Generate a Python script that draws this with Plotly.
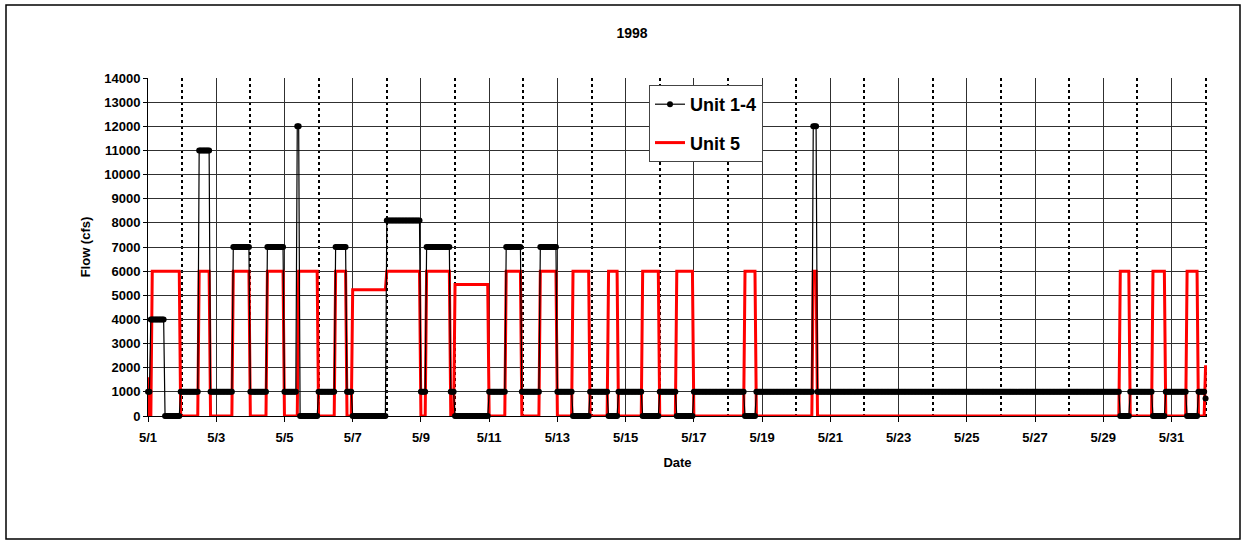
import numpy as np
import pandas as pd
import plotly.graph_objects as go

# ---------------- data ----------------
# Hourly flows, 1998-05-01 00:00 onward. Each series is given as the hour
# (from 5/1 00:00) at which a flow level begins, and that level in cfs.
u14_start_hour = [0, 2, 12, 23, 36, 44, 60, 72, 84, 96, 105, 107, 120, 132, 140,
                  144, 168, 192, 196, 213, 216, 240, 252, 263, 276, 288, 299,
                  311, 324, 331, 348, 360, 372, 384, 420, 428, 468, 471, 684,
                  691, 707, 716, 731, 739, 744]
u14_flow = [1000, 4000, 0, 1000, 11000, 1000, 7000, 1000, 7000, 1000, 12000, 0,
            1000, 7000, 1000, 0, 8100, 1000, 7000, 1000, 0, 1000, 7000, 1000,
            7000, 1000, 0, 1000, 0, 1000, 0, 1000, 0, 1000, 0, 1000, 12000,
            1000, 0, 1000, 0, 1000, 0, 1000, 730]
u14_last_hour = 744

u5_start_hour = [0, 1, 3, 23, 36, 44, 60, 72, 84, 96, 106, 120, 132, 140, 144,
                 168, 192, 196, 213, 216, 240, 252, 263, 276, 288, 299, 311,
                 324, 331, 348, 360, 372, 384, 420, 428, 468, 471, 684, 691,
                 707, 716, 731, 739, 744]
u5_flow = [1600, 0, 6000, 0, 6000, 0, 6000, 0, 6000, 0, 6000, 0, 6000, 0, 5230,
           6000, 0, 6000, 0, 5450, 0, 6000, 0, 6000, 0, 6000, 0, 6000, 0, 6000,
           0, 6000, 0, 6000, 0, 6000, 0, 6000, 0, 6000, 0, 6000, 0, 2100]
u5_last_hour = 744

tick_labels = ["5/1", "5/3", "5/5", "5/7", "5/9", "5/11", "5/13", "5/15",
               "5/17", "5/19", "5/21", "5/23", "5/25", "5/27", "5/29", "5/31"]
dotted_days = ["5/2", "5/4", "5/6", "5/8", "5/10", "5/12", "5/14", "5/16",
               "5/18", "5/20", "5/22", "5/24", "5/26", "5/28", "5/30", "6/1"]
year = 1998
start = pd.Timestamp(f"{year}-05-01")


def hourly(starts, flows, last):
    hours = np.arange(0, last + 1)
    idx = np.searchsorted(np.asarray(starts), hours, side="right") - 1
    times = start + pd.to_timedelta(hours, unit="h")
    return times, np.asarray(flows)[idx]


t14, f14 = hourly(u14_start_hour, u14_flow, u14_last_hour)
t5, f5 = hourly(u5_start_hour, u5_flow, u5_last_hour)

tickvals = pd.to_datetime([f"{year}/{d}" for d in tick_labels])
minorvals = pd.to_datetime([f"{year}/{d}" for d in dotted_days])

FONT = "Arial, Liberation Sans, sans-serif"

fig = go.Figure()
fig.add_trace(go.Scatter(
    x=t5, y=f5, name="Unit 5", mode="lines",
    line=dict(color="#FF0000", width=3),
    legendgroup="b", legendrank=2,
))
fig.add_trace(go.Scatter(
    x=t14, y=f14, name="Unit 1-4", mode="lines+markers",
    line=dict(color="black", width=1.2),
    marker=dict(color="black", size=6, symbol="circle"),
    cliponaxis=False,
    legendgroup="a", legendrank=1,
))

# plot-area pixel geometry
L, R, T, B = 148, 1207, 78, 416
W, H = 1245, 542
pw, ph = R - L, B - T

fig.update_layout(
    width=W, height=H,
    margin=dict(l=L, r=W - R, t=T, b=H - B),
    paper_bgcolor="white", plot_bgcolor="white",
    font=dict(family=FONT, color="black"),
    title=dict(text="1998", font=dict(size=14, weight="bold", family=FONT),
               x=632 / W, xref="container", xanchor="center",
               y=1 - 33 / H, yref="container", yanchor="middle"),
    showlegend=True,
    legend=dict(x=(649 - L) / pw, y=(B - 85) / ph, xanchor="left", yanchor="top",
                bgcolor="white", bordercolor="#444", borderwidth=1,
                font=dict(size=18, weight="bold", family=FONT),
                traceorder="grouped", tracegroupgap=12),
    shapes=[dict(type="rect", xref="paper", yref="paper",
                 x0=(6 - L) / pw, x1=(1240 - L) / pw,
                 y0=(B - 539) / ph, y1=(B - 5) / ph,
                 line=dict(color="black", width=1.5), layer="below")],
)

fig.update_xaxes(
    type="date",
    range=[start, start + pd.Timedelta(hours=745)],
    tickmode="array", tickvals=tickvals, ticktext=tick_labels,
    tickfont=dict(size=13, weight="bold", family=FONT),
    ticks="outside", ticklen=5, tickcolor="black", ticklabelstandoff=4,
    showgrid=True, gridcolor="#303030", gridwidth=1,
    showline=True, linecolor="black", linewidth=1,
    minor=dict(tickvals=minorvals, showgrid=True, griddash="dot",
               gridcolor="black", gridwidth=2),
    title=dict(text="Date", font=dict(size=13, weight="bold", family=FONT),
               standoff=14),
)
fig.update_yaxes(
    range=[0, 14000], tick0=0, dtick=1000, tickformat="d",
    tickfont=dict(size=13, weight="bold", family=FONT),
    ticks="outside", ticklen=4, tickcolor="black",
    showgrid=True, gridcolor="#303030", gridwidth=1,
    showline=True, linecolor="black", linewidth=1, zeroline=False,
    title=dict(text="Flow (cfs)", font=dict(size=13, weight="bold", family=FONT),
               standoff=10),
)

fig.write_html("out.html", config={"displayModeBar": False},
               post_script="document.body.style.margin='0';")
